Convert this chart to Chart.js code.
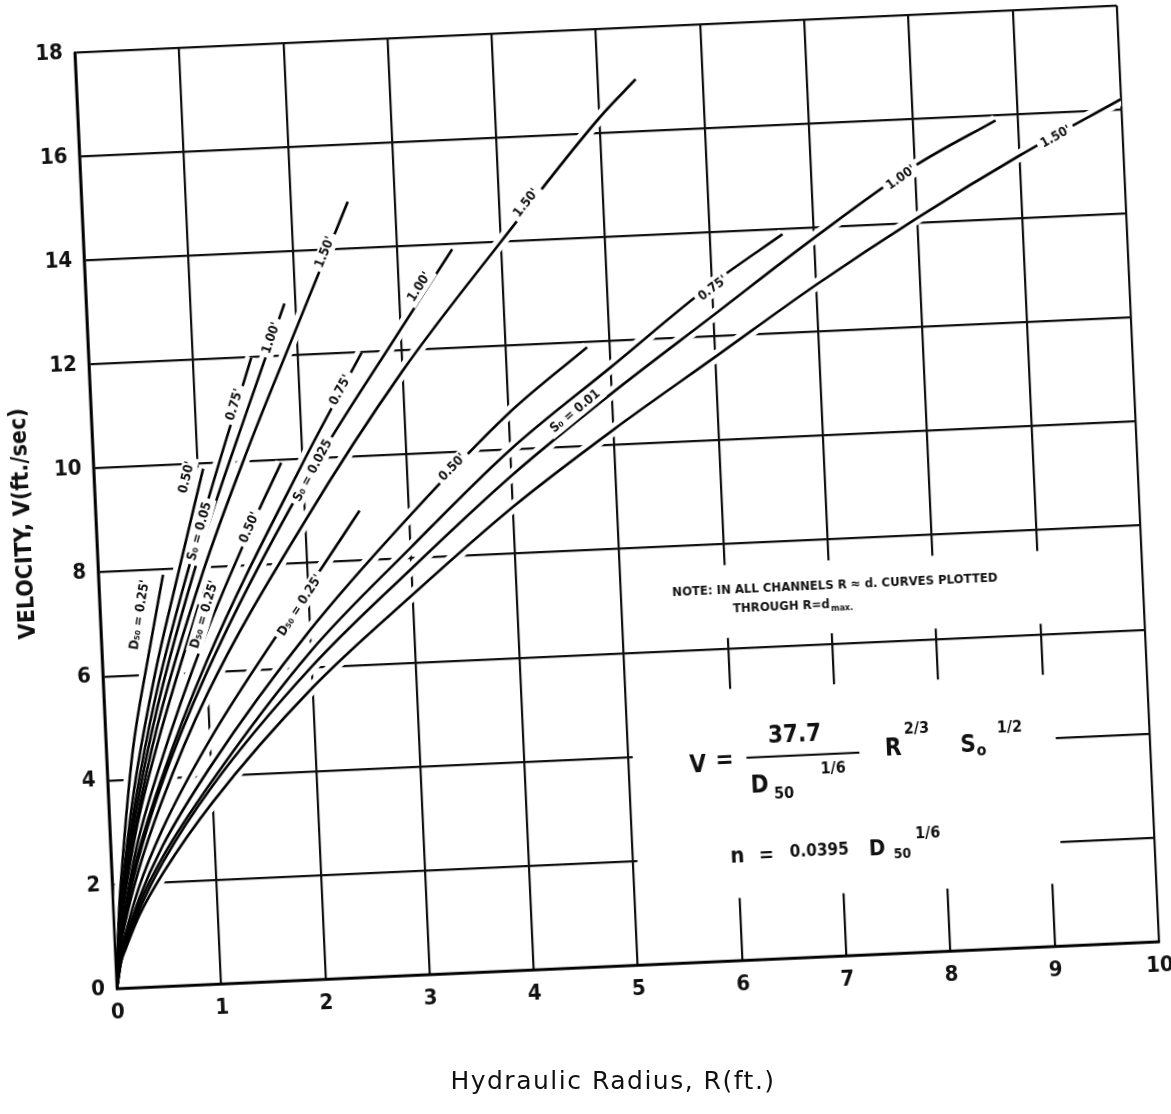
<!DOCTYPE html>
<html>
<head>
<meta charset="utf-8">
<title>Velocity vs Hydraulic Radius</title>
<script src="https://cdn.jsdelivr.net/npm/chart.js@4.4.1/dist/chart.umd.min.js"></script>
<style>
html,body{margin:0;padding:0;background:#fff;}
#wrap{position:relative;width:1171px;height:1114px;overflow:hidden;background:#fff;}
#chart{position:absolute;left:0;top:0;transform:rotate(-2.58deg);transform-origin:585.5px 557px;}
#xtitle{position:absolute;left:0;top:1066px;width:1171px;padding-left:55px;box-sizing:border-box;
text-align:center;font-family:"DejaVu Sans",Verdana,sans-serif;font-size:25px;line-height:30px;letter-spacing:1.5px;color:#111;}
</style>
</head>
<body>
<div id="wrap">
<canvas id="chart" width="1171" height="1114"></canvas>
<div id="xtitle">Hydraulic Radius, R(ft.)</div>
</div>
<script>

// S0 = 0.05
const r_s050_d025=[0,0.05,0.1,0.25,0.45,0.62];
const v_s050_d025=[0,1.4,2.3,4.5,6.4,7.9];
const r_s050_d050=[0,0.05,0.1,0.25,0.5,0.75,1.05];
const v_s050_d050=[0,1.3,2.0,3.8,6.0,7.8,9.9];
const r_s050_d075=[0,0.05,0.1,0.25,0.5,1.0,1.56];
const v_s050_d075=[0,1.2,1.9,3.5,5.6,8.8,12.0];
const r_s050_d100=[0,0.05,0.1,0.25,0.5,1.0,1.5,1.9];
const v_s050_d100=[0,1.15,1.8,3.3,5.3,8.4,11.0,13.0];
const r_s050_d150=[0,0.05,0.1,0.25,0.5,1.0,1.5,2.0,2.55];
const v_s050_d150=[0,1.05,1.7,3.1,5.0,7.9,10.3,12.5,14.9];

// S0 = 0.025
const r_s025_d025=[0,0.05,0.1,0.25,0.5,0.95];
const v_s025_d025=[0,1.0,1.6,3.0,4.7,7.3];
const r_s025_d050=[0,0.05,0.1,0.25,0.5,1.0,1.5,1.8];
const v_s025_d050=[0,0.9,1.4,2.7,4.2,6.7,8.8,9.95];
const r_s025_d075=[0,0.05,0.1,0.25,0.5,1.0,2.0,2.62];
const v_s025_d075=[0,0.85,1.35,2.5,3.9,6.2,9.9,12.0];
const r_s025_d100=[0,0.05,0.1,0.25,0.5,1.0,2.0,3.0,3.53];
const v_s025_d100=[0,0.8,1.3,2.4,3.8,6.0,9.5,12.4,13.9];
const r_s025_d150=[0,0.05,0.1,0.25,0.5,1.0,2.0,3.0,4.0,5.0,5.36];
const v_s025_d150=[0,0.75,1.2,2.2,3.5,5.6,8.8,11.6,14.0,16.3,17.0];

// S0 = 0.01
const r_s010_d025=[0,0.05,0.1,0.25,0.5,1.0,2.0,2.53];
const v_s010_d025=[0,0.65,1.0,1.9,3.0,4.7,7.5,8.96];
const r_s010_d050=[0,0.05,0.1,0.25,0.5,1.0,2.0,3.0,4.0,4.78];
const v_s010_d050=[0,0.55,0.9,1.7,2.7,4.2,6.7,8.8,10.7,11.9];
const r_s010_d075=[0,0.05,0.1,0.25,0.5,1.0,2.0,3.0,4.0,5.0,6.0,6.7];
const v_s010_d075=[0,0.55,0.85,1.6,2.5,3.9,6.3,8.2,10.0,11.5,13.0,13.9];
const r_s010_d100=[0,0.05,0.1,0.25,0.5,1.0,2.0,3.0,4.0,5.0,6.0,7.0,8.0,8.79];
const v_s010_d100=[0,0.5,0.8,1.5,2.4,3.8,6.0,7.8,9.5,11.0,12.4,13.8,15.1,15.9];
const r_s010_d150=[0,0.05,0.1,0.25,0.5,1.0,2.0,3.0,4.0,5.0,6.0,7.0,8.0,9.0,10.0];
const v_s010_d150=[0,0.5,0.75,1.4,2.2,3.5,5.6,7.3,8.9,10.3,11.6,12.9,14.1,15.2,16.2];

const curves=[
[r_s050_d025,v_s050_d025],[r_s050_d050,v_s050_d050],[r_s050_d075,v_s050_d075],[r_s050_d100,v_s050_d100],[r_s050_d150,v_s050_d150],
[r_s025_d025,v_s025_d025],[r_s025_d050,v_s025_d050],[r_s025_d075,v_s025_d075],[r_s025_d100,v_s025_d100],[r_s025_d150,v_s025_d150],
[r_s010_d025,v_s010_d025],[r_s010_d050,v_s010_d050],[r_s010_d075,v_s010_d075],[r_s010_d100,v_s010_d100],[r_s010_d150,v_s010_d150]
];

// labels written along the curves (curve index, place in data units)
const curveLabels=[
{t:"D\u2085\u2080 = 0.25'",c:0,r:0.38,v:7.15},
{t:"0.50'",c:1,r:0.89,v:9.75},
{t:"S\u2080 = 0.05",c:2,r:0.99,v:8.7},
{t:"0.75'",c:2,r:1.38,v:11.1},
{t:"1.00'",c:3,r:1.76,v:12.35},
{t:"1.50'",c:4,r:2.31,v:13.95},
{t:"D\u2085\u2080 = 0.25'",c:5,r:1.0,v:7.1},
{t:"0.50'",c:6,r:1.47,v:8.73},
{t:"S\u2080 = 0.025",c:7,r:2.1,v:9.77},
{t:"0.75'",c:7,r:2.4,v:11.29},
{t:"1.00'",c:8,r:3.2,v:13.2},
{t:"1.50'",c:9,r:4.26,v:14.72},
{t:"D\u2085\u2080 = 0.25'",c:10,r:1.92,v:7.19},
{t:"0.50'",c:11,r:3.44,v:9.71},
{t:"S\u2080 = 0.01",c:12,r:4.64,v:10.68},
{t:"0.75'",c:12,r:6.01,v:12.92},
{t:"1.00'",c:13,r:7.86,v:14.88},
{t:"1.50'",c:14,r:9.36,v:15.53}
];

const FONT='"DejaVu Sans Condensed","Liberation Sans Narrow","DejaVu Sans",sans-serif';

function toPts(r,v){
return r.map((x,i)=>({x:x,y:v[i]}));
}

function interp(r,v,x){
if(x<=r[0])return v[0];
for(let i=1;i<r.length;i++){
if(x<=r[i]){
const f=(x-r[i-1])/(r[i]-r[i-1]);
return v[i-1]+f*(v[i]-v[i-1]);
}
}
return v[v.length-1];
}

const datasets=[];
curves.forEach(c=>{
datasets.push({data:toPts(c[0],c[1]),borderColor:"#fff",borderWidth:12,pointRadius:0,
cubicInterpolationMode:"monotone",order:2,borderCapStyle:"butt"});
});
curves.forEach(c=>{
datasets.push({data:toPts(c[0],c[1]),borderColor:"#000",borderWidth:2.6,pointRadius:0,
cubicInterpolationMode:"monotone",order:1});
});

// white patches behind the note and the formula
const blankBoxes=[
{r0:5.04,r1:9.5,v0:6.2,v1:7.6},
{r0:5.04,r1:9.1,v0:1.2,v1:5.22}
];

const extras={
id:"extras",
beforeDatasetsDraw(chart){
const ctx=chart.ctx,x=chart.scales.x,y=chart.scales.y;
ctx.save();
ctx.fillStyle="#fff";
blankBoxes.forEach(b=>{
const x0=x.getPixelForValue(b.r0),x1=x.getPixelForValue(b.r1);
const y0=y.getPixelForValue(b.v1),y1=y.getPixelForValue(b.v0);
ctx.fillRect(x0,y0,x1-x0,y1-y0);
});
ctx.restore();
},
afterDatasetsDraw(chart){
const ctx=chart.ctx,x=chart.scales.x,y=chart.scales.y,a=chart.chartArea;
ctx.save();

// axis lines again, over the white halos near the origin
ctx.strokeStyle="#000";
ctx.lineWidth=2.6;
ctx.beginPath();
ctx.moveTo(a.left,a.top);
ctx.lineTo(a.left,a.bottom);
ctx.lineTo(a.right,a.bottom);
ctx.stroke();

// curve labels
curveLabels.forEach(l=>{
const c=curves[l.c];
const d=0.08;
const ra=Math.max(c[0][0],l.r-d),rb=Math.min(c[0][c[0].length-1],l.r+d);
const xa=x.getPixelForValue(ra),ya=y.getPixelForValue(interp(c[0],c[1],ra));
const xb=x.getPixelForValue(rb),yb=y.getPixelForValue(interp(c[0],c[1],rb));
const ang=Math.atan2(yb-ya,xb-xa);
const px=x.getPixelForValue(l.r),py=y.getPixelForValue(l.v);
ctx.save();
ctx.translate(px,py);
ctx.rotate(ang);
ctx.font="bold 13px "+FONT;
const w=ctx.measureText(l.t).width;
ctx.fillStyle="#fff";
ctx.fillRect(-w/2-4,-8,w+8,16);
ctx.fillStyle="#111";
ctx.textAlign="center";
ctx.textBaseline="middle";
ctx.fillText(l.t,0,0);
ctx.restore();
});

// note
ctx.fillStyle="#111";
ctx.textAlign="left";
ctx.textBaseline="middle";
let nx=x.getPixelForValue(5.49),ny=y.getPixelForValue(7.12);
ctx.font="bold 13px "+FONT;
ctx.fillText("NOTE: IN ALL CHANNELS R \u2248 d. CURVES PLOTTED",nx,ny,395);
ctx.fillText("THROUGH R=d",nx+60,ny+19);
let tw=ctx.measureText("THROUGH R=d").width;
ctx.font="bold 9px "+FONT;
ctx.fillText("max.",nx+60+tw+1,ny+23);

// formula V = 37.7 / D50^(1/6) R^(2/3) S0^(1/2)
const fx=x.getPixelForValue(5.66),fy=y.getPixelForValue(3.77);
const big="bold 24px "+FONT,small="bold 16px "+FONT;
function put(t,dx,dy,f,al){
ctx.font=f;
ctx.textAlign=al||"center";
ctx.fillText(t,fx+dx,fy+dy);
}
put("V",0,0,big);
put("=",27,-3,big);
put("37.7",98,-26,big);
ctx.lineWidth=2.2;
ctx.beginPath();
ctx.moveTo(fx+49,fy-6);
ctx.lineTo(fx+162,fy-6);
ctx.stroke();
put("D",61,23,big);
put("50",85,32,small);
put("1/6",135,9,small);
put("R",196,-8,big);
put("2/3",220,-27,small);
put("S",271,-8,big);
put("o",284,-2,small);
put("1/2",313,-24,small);

// n = 0.0395 D50^(1/6)
const gx=x.getPixelForValue(6.0),gy=y.getPixelForValue(2.0);
function put2(t,dx,dy,f){
ctx.font=f;
ctx.textAlign="center";
ctx.fillText(t,gx+dx,gy+dy);
}
put2("n",0,0,"bold 22px "+FONT);
put2("=",29,1,"bold 20px "+FONT);
put2("0.0395",82,-1,"bold 17px "+FONT);
put2("D",140,-1,"bold 22px "+FONT);
put2("50",165,5,"bold 14px "+FONT);
put2("1/6",191,-14,"bold 16px "+FONT);

ctx.restore();
}
};

new Chart(document.getElementById("chart"),{
type:"line",
data:{datasets:datasets},
options:{
responsive:false,
animation:false,
devicePixelRatio:1,
layout:{padding:{top:30,right:30,left:0,bottom:0}},
plugins:{legend:{display:false},tooltip:{enabled:false}},
scales:{
x:{
type:"linear",min:0,max:10,
afterFit:s=>{s.height=147;},
ticks:{stepSize:1,color:"#111",padding:11,font:{family:FONT,size:22,weight:"bold"}},
grid:{color:"#111",lineWidth:2.2,drawTicks:false},
border:{color:"#000",width:2.6}
},
y:{
min:0,max:18,
afterFit:s=>{s.width=98;},
ticks:{stepSize:2,color:"#111",padding:12,font:{family:FONT,size:22,weight:"bold"}},
grid:{color:"#111",lineWidth:2.2,drawTicks:false},
border:{color:"#000",width:2.6},
title:{display:true,text:"VELOCITY, V(ft./sec)",color:"#111",padding:{top:12,bottom:0},
font:{family:FONT,size:23,weight:"bold"}}
}
}
},
plugins:[extras]
});

</script>
</body>
</html>
